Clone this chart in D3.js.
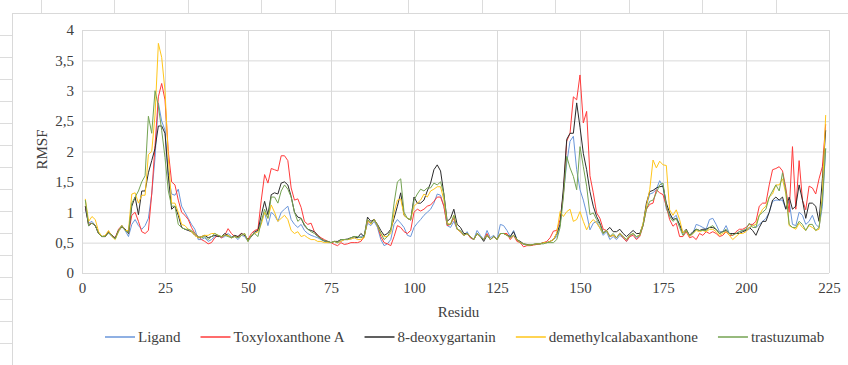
<!DOCTYPE html>
<html>
<head>
<meta charset="utf-8">
<script src="https://cdn.jsdelivr.net/npm/d3@7"></script>
<style>
body { margin: 0; background: #fff; }
svg text { font-family: "Liberation Serif", "Times New Roman", serif; fill: #404040; }
</style>
</head>
<body>
<div id="chart"></div>
<script>
// residues 1..224
var residues = d3.range(1, 225);

var ligand = [
  1.05, 0.82, 0.85, 0.78, 0.65, 0.6, 0.62, 0.66, 0.6, 0.57, 0.68, 0.76, 0.7, 0.6,
  0.8, 0.88, 0.78, 0.72, 0.78, 0.9, 1.3, 1.9, 2.8, 2.5,
  2.35, 1.6, 1.3, 1.28, 1.38, 1.1, 1.0, 0.9, 0.8, 0.72,
  0.55, 0.55, 0.58, 0.52, 0.55, 0.6, 0.62, 0.58, 0.6, 0.65,
  0.6, 0.6, 0.55, 0.62, 0.6, 0.52, 0.6, 0.65, 0.7, 0.85,
  1.0, 0.78, 1.0, 0.95, 0.85, 1.0, 1.05, 1.1, 0.88, 0.8,
  0.75, 0.8, 0.7, 0.65, 0.62, 0.6, 0.58, 0.55, 0.52, 0.5,
  0.5, 0.52, 0.5, 0.52, 0.55, 0.55, 0.56, 0.58, 0.58, 0.6,
  0.62, 0.82, 0.78, 0.85, 0.75, 0.55, 0.45, 0.48, 0.55, 0.8,
  0.88, 0.82, 0.75, 0.62, 0.6, 0.75, 0.82, 0.88, 0.95, 1.0,
  1.05, 1.15, 1.3, 1.28, 1.1, 0.78, 0.75, 0.85, 0.72, 0.68,
  0.62, 0.68, 0.58, 0.55, 0.7, 0.62, 0.55, 0.7, 0.58, 0.62,
  0.55, 0.8, 0.78, 0.7, 0.6, 0.7, 0.55, 0.5, 0.47, 0.46,
  0.46, 0.47, 0.48, 0.48, 0.5, 0.5, 0.52, 0.55, 0.6, 0.8,
  1.3, 1.81, 2.17, 2.25, 1.7, 1.37, 1.2, 0.98, 0.71, 0.82,
  0.85, 0.74, 0.62, 0.68, 0.55, 0.6, 0.55, 0.62, 0.58, 0.52,
  0.6, 0.65, 0.57, 0.62, 0.8, 1.1, 1.3, 1.32, 1.38, 1.52,
  1.42, 1.05, 0.95, 0.9, 0.95, 0.78, 0.65, 0.7, 0.6, 0.65,
  0.8, 0.78, 0.75, 0.72, 0.88, 0.9, 0.8, 0.68, 0.68, 0.78,
  0.65, 0.65, 0.65, 0.68, 0.7, 0.7, 0.72, 0.8, 0.75, 0.8,
  0.85, 0.9, 1.0, 1.18, 1.2, 1.2, 1.2, 1.05, 1.18, 0.8,
  0.78, 1.0, 0.95, 0.8, 0.85, 0.95, 0.8, 0.75, 1.1, 2.05
];

var toxyloxanthone = [
  1.1, 0.8, 0.82, 0.78, 0.65, 0.6, 0.6, 0.68, 0.62, 0.58, 0.72, 0.78, 0.72, 0.65,
  0.95, 1.0, 0.85, 0.68, 0.65, 0.7, 1.3, 2.1, 2.9, 3.12,
  2.85, 2.0, 1.5, 1.45, 1.2, 1.0, 0.95, 0.88, 0.75, 0.65,
  0.6, 0.55, 0.52, 0.48, 0.5, 0.58, 0.62, 0.58, 0.62, 0.73,
  0.65, 0.6, 0.6, 0.65, 0.62, 0.55, 0.65, 0.7, 0.72, 1.2,
  1.62, 1.48, 1.72, 1.7, 1.68, 1.93, 1.93, 1.85, 1.4, 1.2,
  1.22, 1.08, 0.85, 0.8, 0.82, 0.68, 0.62, 0.58, 0.55, 0.52,
  0.5, 0.47, 0.45, 0.5, 0.47, 0.48, 0.5, 0.5, 0.5, 0.52,
  0.6, 0.85, 0.82, 0.88, 0.78, 0.6, 0.5, 0.48, 0.45, 0.6,
  0.78, 0.75, 0.68, 0.65, 0.7, 1.0, 1.05, 1.02, 1.05, 1.1,
  1.12, 1.18, 1.25, 1.25, 1.1, 0.78, 0.8, 0.9, 0.72, 0.68,
  0.62, 0.65, 0.58, 0.55, 0.65, 0.6, 0.55, 0.65, 0.55, 0.6,
  0.55, 0.65, 0.65, 0.65, 0.55, 0.62, 0.52, 0.5, 0.43, 0.45,
  0.45, 0.46, 0.47, 0.48, 0.5, 0.52, 0.58, 0.69, 0.7, 0.88,
  1.3, 2.17, 2.3, 2.9, 2.85, 3.26, 2.47, 2.66, 1.6, 1.32,
  0.99, 0.9, 0.72, 0.7, 0.6, 0.62, 0.58, 0.65, 0.58, 0.52,
  0.6, 0.62, 0.55, 0.6, 0.78, 1.05, 1.13, 1.15, 1.37, 1.32,
  1.29, 1.1, 0.88, 0.77, 0.82, 0.6, 0.6, 0.68, 0.58, 0.6,
  0.55, 0.65, 0.62, 0.68, 0.65, 0.68, 0.65, 0.6, 0.62, 0.68,
  0.62, 0.62, 0.68, 0.72, 0.72, 0.75, 0.8, 0.8, 0.85, 1.1,
  1.15, 1.15, 1.45, 1.7, 1.72, 1.75, 1.68, 1.4, 1.0, 2.08,
  1.05, 1.85, 1.2, 1.04, 1.43, 1.4, 1.3, 1.55, 1.75, 2.45
];

var deoxygartanin = [
  1.1, 0.78, 0.82, 0.78, 0.65, 0.6, 0.6, 0.68, 0.62, 0.57, 0.7, 0.76, 0.72, 0.65,
  1.1, 1.25, 0.96, 1.35, 1.35, 1.65, 1.85, 2.05, 2.42, 2.42,
  2.3, 1.6, 1.05, 1.1, 0.95, 0.75, 0.72, 0.7, 0.68, 0.62,
  0.58, 0.6, 0.62, 0.58, 0.6, 0.62, 0.6, 0.6, 0.65, 0.62,
  0.58, 0.62, 0.6, 0.65, 0.62, 0.55, 0.6, 0.68, 0.7, 0.95,
  1.18, 0.96, 1.29, 1.32, 1.3, 1.48, 1.5, 1.45, 1.26, 1.0,
  0.92, 0.9, 0.78, 0.72, 0.7, 0.68, 0.62, 0.56, 0.53, 0.52,
  0.5, 0.52, 0.52, 0.55, 0.55, 0.56, 0.58, 0.6, 0.58, 0.65,
  0.6, 0.92, 0.85, 0.88, 0.8, 0.7, 0.62, 0.65, 0.72, 0.9,
  1.1, 1.32, 0.95, 0.9, 0.87, 1.25, 1.15, 1.15, 1.2, 1.35,
  1.48, 1.7, 1.78, 1.68, 1.3, 0.85, 0.9, 1.05, 0.8, 0.75,
  0.65, 0.65, 0.6, 0.55, 0.65, 0.6, 0.52, 0.62, 0.55, 0.6,
  0.55, 0.65, 0.65, 0.62, 0.6, 0.68, 0.55, 0.52, 0.48, 0.47,
  0.46, 0.47, 0.48, 0.48, 0.5, 0.5, 0.52, 0.55, 0.65, 0.8,
  1.4, 2.2, 2.3, 2.3, 2.8, 2.4, 1.97, 1.7, 1.34, 1.1,
  0.93, 0.82, 0.66, 0.7, 0.75, 0.68, 0.68, 0.72, 0.65, 0.6,
  0.65, 0.7, 0.65, 0.65, 0.8, 1.15, 1.34, 1.36, 1.4, 1.42,
  1.43, 1.15, 0.99, 0.88, 0.9, 0.8, 0.66, 0.72, 0.62, 0.68,
  0.72, 0.7, 0.72, 0.72, 0.75, 0.75, 0.72, 0.65, 0.68, 0.7,
  0.65, 0.65, 0.65, 0.65, 0.68, 0.7, 0.75, 0.7, 0.62, 0.75,
  0.85, 0.85, 1.0, 1.2, 1.25, 1.2, 1.25, 1.05, 1.25, 1.05,
  1.1, 1.45, 1.2, 0.9, 1.15, 1.15, 1.1, 0.85, 1.55, 2.35
];

var demethylcalabaxanthone = [
  1.22, 0.85, 0.93, 0.88, 0.68, 0.6, 0.62, 0.7, 0.6, 0.55, 0.68, 0.78, 0.7, 0.7,
  1.3, 1.32, 1.15, 1.28, 1.28, 1.95, 2.0, 2.6, 3.78, 3.55,
  3.0, 1.9, 1.15, 1.15, 1.0, 0.8, 0.78, 0.72, 0.68, 0.62,
  0.58, 0.6, 0.62, 0.62, 0.65, 0.65, 0.62, 0.6, 0.62, 0.62,
  0.58, 0.6, 0.58, 0.62, 0.65, 0.52, 0.62, 0.65, 0.68, 0.8,
  1.0, 0.9, 1.12, 1.0, 0.85, 0.9, 0.95, 0.88, 0.7, 0.65,
  0.68, 0.6, 0.62, 0.58, 0.55, 0.55, 0.52, 0.52, 0.5, 0.5,
  0.5, 0.52, 0.5, 0.52, 0.55, 0.55, 0.56, 0.58, 0.55, 0.55,
  0.58, 0.88, 0.8, 0.88, 0.78, 0.65, 0.6, 0.6, 0.65, 1.0,
  1.2, 1.22, 0.95, 0.9, 0.88, 1.1, 1.15, 1.2, 1.3, 1.25,
  1.35, 1.38, 1.42, 1.42, 1.2, 0.82, 0.8, 0.95, 0.72, 0.68,
  0.62, 0.65, 0.6, 0.55, 0.65, 0.6, 0.55, 0.62, 0.55, 0.6,
  0.55, 0.65, 0.65, 0.62, 0.58, 0.62, 0.55, 0.5, 0.48, 0.46,
  0.46, 0.47, 0.48, 0.48, 0.5, 0.5, 0.52, 0.55, 0.66, 1.01,
  0.93, 1.01, 1.05, 0.85, 0.88, 1.01, 0.85, 0.71, 0.82, 0.88,
  0.82, 0.74, 0.65, 0.7, 0.6, 0.62, 0.58, 0.65, 0.6, 0.55,
  0.62, 0.65, 0.6, 0.62, 0.82, 1.1, 1.37, 1.86, 1.73, 1.84,
  1.78, 1.77, 1.04, 0.95, 1.04, 0.88, 0.66, 0.7, 0.6, 0.65,
  0.7, 0.68, 0.7, 0.68, 0.72, 0.72, 0.68, 0.62, 0.65, 0.68,
  0.62, 0.55, 0.6, 0.65, 0.65, 0.68, 0.75, 0.78, 0.8, 0.95,
  1.05, 1.1, 1.25, 1.3, 1.45, 1.45, 1.55, 1.3, 0.78, 0.75,
  0.72, 0.82, 0.75, 0.7, 0.78, 0.75, 0.7, 0.72, 1.3, 2.6
];

var trastuzumab = [
  1.2, 0.78, 0.82, 0.78, 0.65, 0.6, 0.6, 0.66, 0.62, 0.56, 0.7, 0.78, 0.7, 0.66,
  1.15, 1.25, 1.35, 1.5, 1.6, 2.58, 2.3, 3.0, 2.75, 2.35,
  1.9, 1.35, 1.1, 1.1, 0.8, 0.75, 0.72, 0.72, 0.7, 0.65,
  0.6, 0.58, 0.6, 0.55, 0.6, 0.65, 0.62, 0.6, 0.62, 0.6,
  0.58, 0.6, 0.58, 0.62, 0.65, 0.52, 0.62, 0.65, 0.6, 0.85,
  1.05, 0.9, 1.25, 1.25, 1.15, 1.35, 1.45, 1.38, 1.25, 1.0,
  0.85, 0.9, 0.8, 0.72, 0.68, 0.65, 0.6, 0.56, 0.53, 0.52,
  0.5, 0.52, 0.5, 0.55, 0.55, 0.55, 0.58, 0.6, 0.6, 0.58,
  0.6, 0.88, 0.82, 0.88, 0.78, 0.65, 0.55, 0.6, 0.7, 1.15,
  1.5, 1.55, 1.0, 0.9, 0.88, 1.2, 1.3, 1.38, 1.35, 1.4,
  1.4, 1.48, 1.45, 1.5, 1.3, 0.8, 0.8, 0.95, 0.72, 0.7,
  0.62, 0.65, 0.6, 0.55, 0.65, 0.6, 0.55, 0.62, 0.55, 0.6,
  0.55, 0.65, 0.65, 0.62, 0.58, 0.62, 0.55, 0.5, 0.48, 0.46,
  0.46, 0.47, 0.48, 0.48, 0.48, 0.5, 0.5, 0.5, 0.55, 0.75,
  1.25, 1.92, 1.73, 1.59, 1.37, 2.08, 1.75, 1.43, 0.96, 0.99,
  0.88, 0.8, 0.65, 0.7, 0.6, 0.65, 0.58, 0.65, 0.6, 0.55,
  0.62, 0.65, 0.6, 0.62, 0.78, 1.05, 1.18, 1.2, 1.32, 1.45,
  1.48, 1.1, 0.93, 0.85, 0.9, 0.75, 0.62, 0.7, 0.62, 0.65,
  0.72, 0.7, 0.7, 0.7, 0.75, 0.78, 0.72, 0.65, 0.68, 0.72,
  0.65, 0.62, 0.65, 0.68, 0.7, 0.72, 0.82, 0.75, 0.75, 0.95,
  1.0, 1.05, 1.25, 1.35, 1.45, 1.35, 1.65, 1.35, 0.8, 0.75,
  0.75, 0.85, 0.8, 0.7, 0.8, 0.8, 0.7, 0.75, 1.2, 2.05
];

var seriesNames = ["Ligand", "Toxyloxanthone A", "8-deoxygartanin", "demethylcalabaxanthone", "trastuzumab"];
var seriesValues = [ligand, toxyloxanthone, deoxygartanin, demethylcalabaxanthone, trastuzumab];
var xTicks = [0, 25, 50, 75, 100, 125, 150, 175, 200, 225];
var yTicks = [0, 0.5, 1, 1.5, 2, 2.5, 3, 3.5, 4];

var colors = ["#6a96da", "#ff3b3b", "#2b2b2b", "#ffc61a", "#74a352"];

var svgWidth = 848, svgHeight = 365;
var margin = {top: 30, left: 82, right: 19, bottom: 92};
var chartWidth = svgWidth - margin.left - margin.right;
var chartHeight = svgHeight - margin.top - margin.bottom;

var svg = d3.select("#chart").append("svg")
    .attr("width", svgWidth)
    .attr("height", svgHeight);

// spreadsheet cell lines behind the chart
var sheet = svg.append("g").attr("stroke", "#dcdcdc").attr("stroke-width", 1);
d3.range(40.5, 848, 73.5).forEach(function(x) {
    sheet.append("line").attr("x1", Math.round(x) + 0.5).attr("x2", Math.round(x) + 0.5).attr("y1", 0).attr("y2", 13);
});
d3.range(35, 365, 22).forEach(function(y) {
    sheet.append("line").attr("x1", 0).attr("x2", 12).attr("y1", y + 0.5).attr("y2", y + 0.5);
});

// chart area border
svg.append("rect")
    .attr("x", 12.5).attr("y", 13.5)
    .attr("width", 850).attr("height", 360)
    .attr("fill", "#fff")
    .attr("stroke", "#d9d9d9");

var chartGroup = svg.append("g")
    .attr("transform", `translate(${margin.left},${margin.top})`);

var xScale = d3.scaleLinear().domain([0, 225]).range([0, chartWidth]);
var yScale = d3.scaleLinear().domain([0, 4]).range([chartHeight, 0]);

var fmt = function(d) { return String(d).replace(".", ","); };

// grid
var yGrid = chartGroup.append("g")
    .call(d3.axisLeft(yScale).tickValues(yTicks).tickSize(-chartWidth).tickFormat(fmt));
yGrid.select(".domain").remove();
yGrid.selectAll(".tick line").attr("stroke", "#d9d9d9");
yGrid.selectAll(".tick text")
    .attr("x", -8)
    .style("font-size", "15px")
    .style("font-family", "Liberation Serif")
    .attr("fill", "#404040");

var xGrid = chartGroup.append("g")
    .attr("transform", `translate(0,${chartHeight})`)
    .call(d3.axisBottom(xScale).tickValues(xTicks).tickSize(-chartHeight));
xGrid.select(".domain").remove();
xGrid.selectAll(".tick line").attr("stroke", "#d9d9d9");
xGrid.selectAll(".tick text")
    .attr("y", 9)
    .style("font-size", "15px")
    .style("font-family", "Liberation Serif")
    .attr("fill", "#404040");

// lines
var line = d3.line()
    .x(function(d, i) { return xScale(residues[i]); })
    .y(function(d) { return yScale(d); });

chartGroup.append("g")
    .selectAll("path")
    .data(seriesValues)
    .enter()
    .append("path")
        .attr("d", line)
        .attr("fill", "none")
        .attr("stroke", function(d, i) { return colors[i]; })
        .attr("stroke-width", 1)
        .attr("stroke-linejoin", "round");

// axis titles
chartGroup.append("text")
    .attr("x", chartWidth / 2 + 3)
    .attr("y", chartHeight + 44)
    .attr("text-anchor", "middle")
    .style("font-size", "15px")
    .text("Residu");

chartGroup.append("text")
    .attr("transform", "rotate(-90)")
    .attr("x", -chartHeight / 2 + 2)
    .attr("y", -35)
    .attr("text-anchor", "middle")
    .style("font-size", "15px")
    .text("RMSF");

// legend
var legend = svg.append("g").attr("transform", "translate(0,337)");
var items = legend.selectAll("g")
    .data(seriesNames)
    .enter()
    .append("g");
items.append("line")
    .attr("x1", 0).attr("x2", 30)
    .attr("y1", 0).attr("y2", 0)
    .attr("stroke", function(d, i) { return colors[i]; })
    .attr("stroke-width", 2)
    .attr("stroke-opacity", 0.75);
items.append("text")
    .attr("x", 33)
    .attr("dy", "0.35em")
    .style("font-size", "15px")
    .text(function(d) { return d; });

var xPos = 105;
items.each(function() {
    var w = d3.select(this).select("text").node().getComputedTextLength();
    d3.select(this).attr("transform", `translate(${xPos},0)`);
    xPos += 33 + w + 20;
});
</script>
</body>
</html>
